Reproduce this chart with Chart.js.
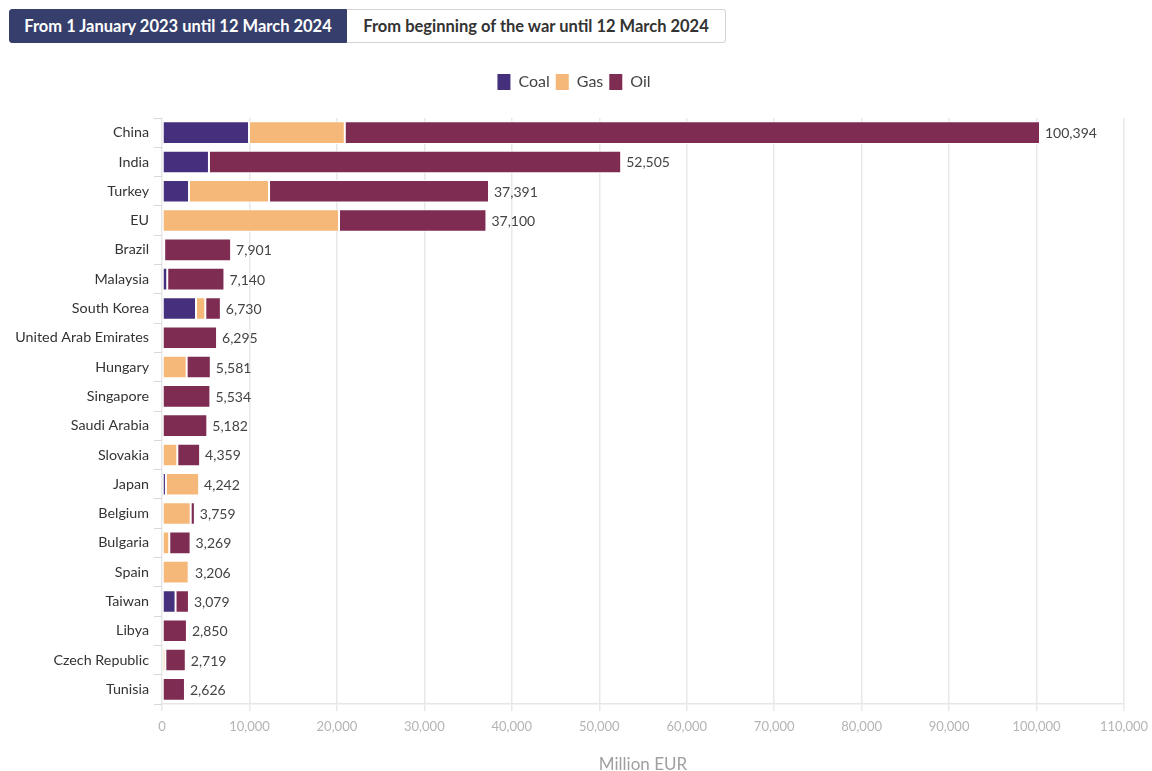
<!DOCTYPE html>
<html>
<head>
<meta charset="utf-8">
<script src="https://cdn.jsdelivr.net/npm/chart.js@4.4.1/dist/chart.umd.min.js"></script>
<style>
  body{margin:0;background:#fff;font-family:Lato,"Open Sans",sans-serif;overflow:hidden;}
  #tabs{position:absolute;left:9px;top:9px;display:flex;}
  .tab{height:34px;box-sizing:border-box;text-align:center;font-weight:bold;font-size:16.5px;line-height:32px;border:1px solid #d4d4d4;}
  .tab.on{width:338px;background:#363f6b;color:#fff;border-color:#363f6b;border-radius:3px 0 0 3px;}
  .tab.off{width:379px;background:#fff;color:#333;border-left:none;border-radius:0 3px 3px 0;}
  #wrap{position:absolute;left:0;top:55px;width:1152px;height:720px;}
</style>
</head>
<body>
<div id="tabs">
  <div class="tab on">From 1 January 2023 until 12 March 2024</div>
  <div class="tab off">From beginning of the war until 12 March 2024</div>
</div>
<div id="wrap"><canvas id="chartBar"></canvas></div>
<script>
var countries=["China","India","Turkey","EU","Brazil","Malaysia","South Korea","United Arab Emirates","Hungary","Singapore","Saudi Arabia","Slovakia","Japan","Belgium","Bulgaria","Spain","Taiwan","Libya","Czech Republic","Tunisia"];
var coal=[9950,5370,3090,0,250,600,3890,0,0,0,0,0,450,0,0,0,1550,0,0,0];
var gas=[10950,0,9150,20240,0,0,1060,0,2820,0,0,1750,3792,3280,830,3050,0,0,380,0];
var oil=[79494,47135,25151,16860,7651,6540,1780,6295,2761,5534,5182,2609,0,479,2439,156,1529,2850,2339,2626];
var xTicksMax=110000;

var colors={coal:"#45307d",gas:"#f5b878",oil:"#7f2c53"};

//TOTAL LABEL AT THE END OF EACH BAR
var totalsPlugin={
  id:"totals",
  afterDatasetsDraw:function(chart){
    var ctx=chart.ctx;
    var xs=chart.scales.x, ys=chart.scales.y;
    ctx.save();
    ctx.font="14px Lato";
    ctx.fillStyle="#444";
    ctx.textBaseline="middle";
    ctx.textAlign="left";
    countries.forEach(function(c,i){
      var total=coal[i]+gas[i]+oil[i];
      var txt=total.toLocaleString("en-US");
      ctx.fillText(txt,xs.getPixelForValue(total)+5,ys.getPixelForValue(i)+1);
    });
    ctx.restore();
  }
};

//MORE SPACE UNDER THE LEGEND
var legendGap={
  id:"legendGap",
  beforeInit:function(chart){
    var fit=chart.legend.fit;
    chart.legend.fit=function(){
      fit.bind(chart.legend)();
      this.height+=18;
    };
  }
};

function ds(label,data,color){
  return {label:label,data:data,backgroundColor:color,borderColor:"#fff",borderWidth:1,borderSkipped:false,barPercentage:0.77,categoryPercentage:1};
}

var ctx=document.getElementById("chartBar");
var myBarChart=new Chart(ctx,{
  type:"bar",
  data:{labels:countries,datasets:[ds("Coal",coal,colors.coal),ds("Gas",gas,colors.gas),ds("Oil",oil,colors.oil)]},
  plugins:[totalsPlugin,legendGap],
  options:{
    indexAxis:"y",
    responsive:true,
    maintainAspectRatio:false,
    animation:false,
    layout:{padding:{top:13,right:20,bottom:0,left:16}},
    plugins:{
      tooltip:{enabled:false},
      legend:{
        position:"top",
        labels:{
          boxWidth:13,boxHeight:16,padding:6,color:"#444",
          font:{family:"Lato",size:16},
          generateLabels:function(chart){
            return chart.data.datasets.map(function(d,i){
              return {text:d.label,fillStyle:d.backgroundColor,strokeStyle:d.backgroundColor,lineWidth:0,datasetIndex:i,fontColor:"#444"};
            });
          }
        }
      }
    },
    scales:{
      x:{
        stacked:true,min:0,max:xTicksMax,
        ticks:{stepSize:10000,color:"#b4b4b4",font:{family:"Lato",size:13},padding:8,
          callback:function(v){return v.toLocaleString("en-US");}},
        grid:{color:"#e8e8e8",lineWidth:1.5,tickLength:7},
        border:{display:true,color:"#e6e6e6",width:1.5},
        title:{display:true,text:"Million EUR",color:"#a0a0a0",font:{family:"Lato",size:17},padding:{top:12,bottom:0}},
        afterFit:function(s){s.paddingRight=28;}
      },
      y:{
        stacked:true,
        ticks:{color:"#333",font:{family:"Lato",size:14.3},padding:5},
        grid:{drawOnChartArea:false,color:"#d8d8d8",tickLength:8},
        border:{display:false},
        afterFit:function(s){s.width=146;}
      }
    }
  }
});
</script>
</body>
</html>
